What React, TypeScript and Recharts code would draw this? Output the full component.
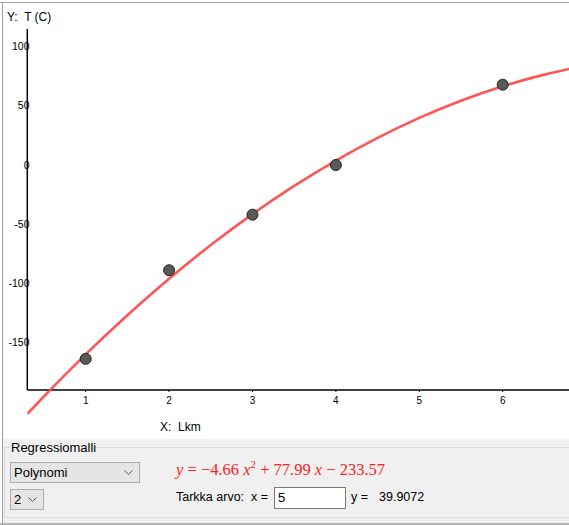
import React from 'react';
import { ComposedChart, Line, Scatter, XAxis, YAxis, ReferenceLine } from 'recharts';

// measured points (Lkm, T)
const lkm = [1, 2, 3, 4, 6];
const temp = [-164, -89, -42, 0, 68];

// regression curve y = -4.66x^2 + 77.99x - 233.57
const curveX = [0.3, 0.5, 1, 1.5, 2, 2.5, 3, 3.5, 4, 4.5, 5, 5.5, 6, 6.5, 6.8];
const curveY = [-210.6, -195.7, -160.2, -127.1, -96.2, -67.7, -41.5, -17.7, 3.8, 23.0, 39.9, 54.4, 66.6, 76.5, 81.3];

const xTicks = [1, 2, 3, 4, 5, 6];
const yTicks = [-150, -100, -50, 0, 50, 100];

const X_MIN = 0.3;
const X_MAX = 6.795;
const Y_AXIS_AT = -190.4;
const Y_MIN = -224.2;
const Y_MAX = 115.1;

const points = lkm.map((x, i) => ({ x, y: temp[i] }));
const curve = curveX.map((x, i) => ({ x, y: curveY[i] }));

const font = '"Liberation Sans", Arial, sans-serif';

const YTick = (props: any) => {
    const { y, payload } = props;
    return (
        <text x={29.5} y={y} dy={3.5} textAnchor="end" fontSize={10.5} fill="#000" fontFamily={font}>
            {payload.value}
        </text>
    );
};

const XTick = (props: any) => {
    const { x, payload } = props;
    return (
        <g>
            <line x1={x} x2={x} y1={390} y2={392} stroke="#000" />
            <text x={x} y={404} textAnchor="middle" fontSize={10} fill="#000" fontFamily={font}>
                {payload.value}
            </text>
        </g>
    );
};

const Dot = (props: any) => {
    const { cx, cy } = props;
    return <circle cx={cx} cy={cy} r={5.5} fill="#595959" stroke="#222" strokeWidth={1} />;
};

const Select = ({ label, left, top, width }: { label: string; left: number; top: number; width: number }) => (
    <div
        style={{
            position: 'absolute', left, top, width, height: 21, boxSizing: 'border-box',
            background: '#e5e5e5', border: '1px solid #adadad', fontSize: 13,
            lineHeight: '19px', paddingLeft: 3, color: '#000',
        }}
    >
        {label}
        <svg style={{ position: 'absolute', right: 6, top: 7 }} width={9} height={6}>
            <polyline points="0.5,0.5 4.5,4.5 8.5,0.5" fill="none" stroke="#555" strokeWidth={1} />
        </svg>
    </div>
);

export default function App() {
    return (
        <div style={{ position: 'absolute', left: 0, top: 0, width: 569, height: 525, background: '#fff', fontFamily: font, overflow: 'hidden' }}>
            {/* window borders */}
            <div style={{ position: 'absolute', left: 0, top: 2, width: 569, height: 1, background: '#a0a0a0' }} />
            <div style={{ position: 'absolute', left: 2, top: 2, width: 1, height: 523, background: '#a0a0a0' }} />

            <div style={{ position: 'absolute', left: 0, top: 0 }}>
                <ComposedChart width={569} height={435} margin={{ top: 29, right: 0, bottom: 0, left: 0 }}>
                    <XAxis
                        type="number"
                        dataKey="x"
                        domain={[X_MIN, X_MAX]}
                        ticks={xTicks}
                        height={5}
                        axisLine={false}
                        tickLine={false}
                        tick={<XTick />}
                        allowDataOverflow
                    />
                    <YAxis
                        type="number"
                        dataKey="y"
                        domain={[Y_MIN, Y_MAX]}
                        ticks={yTicks}
                        width={27.3}
                        axisLine={false}
                        tickLine={false}
                        tick={<YTick />}
                        allowDataOverflow
                    />
                    <ReferenceLine y={Y_AXIS_AT} stroke="#000" strokeWidth={1.5} ifOverflow="visible" />
                    <ReferenceLine
                        segment={[{ x: X_MIN, y: Y_AXIS_AT }, { x: X_MIN, y: Y_MAX }]}
                        stroke="#000"
                        strokeWidth={1.5}
                        ifOverflow="visible"
                    />
                    <Scatter data={points} dataKey="y" shape={<Dot />} isAnimationActive={false} />
                    <Line
                        data={curve}
                        dataKey="y"
                        type="monotone"
                        stroke="#ff4646"
                        strokeOpacity={0.92}
                        strokeWidth={2.6}
                        dot={false}
                        activeDot={false}
                        isAnimationActive={false}
                    />
                </ComposedChart>
            </div>

            <div style={{ position: 'absolute', left: 7, top: 10, fontSize: 12, color: '#000' }}>Y:&nbsp; T (C)</div>
            <div style={{ position: 'absolute', left: 160, top: 420, fontSize: 12, color: '#000' }}>X:&nbsp; Lkm</div>

            {/* bottom panel */}
            <div style={{ position: 'absolute', left: 3, top: 439, width: 566, height: 86, background: '#f0f0f0' }} />
            <div style={{ position: 'absolute', left: 4, top: 447, width: 565, height: 71, border: '1px solid #dcdcdc', borderRight: 'none', boxSizing: 'border-box' }} />
            <div style={{ position: 'absolute', left: 0, top: 523, width: 569, height: 2, background: '#b4b4b4' }} />
            <div style={{ position: 'absolute', left: 10, top: 440, padding: '0 1px', background: '#f0f0f0', fontSize: 13, color: '#000' }}>Regressiomalli</div>

            <Select label="Polynomi" left={10} top={462} width={130} />
            <Select label="2" left={10} top={489} width={34} />

            <div style={{ position: 'absolute', left: 176, top: 458, fontSize: 16.5, color: '#ff2020', fontFamily: '"Liberation Serif", "DejaVu Serif", serif', whiteSpace: 'nowrap' }}>
                <i>y</i> = −4.66 <i>x</i><sup style={{ fontSize: 11 }}>2</sup> + 77.99 <i>x</i> − 233.57
            </div>

            <div style={{ position: 'absolute', left: 176, top: 490, fontSize: 12.5, color: '#000', whiteSpace: 'nowrap' }}>Tarkka arvo:&nbsp; x =</div>
            <div style={{ position: 'absolute', left: 274, top: 487, width: 72, height: 22, boxSizing: 'border-box', background: '#fff', border: '1px solid #7a7a7a', fontSize: 13, lineHeight: '19px', paddingLeft: 3, color: '#000' }}>5</div>
            <div style={{ position: 'absolute', left: 351, top: 490, fontSize: 12.5, color: '#000', whiteSpace: 'nowrap' }}>y =</div>
            <div style={{ position: 'absolute', left: 379, top: 490, fontSize: 12.5, color: '#000', whiteSpace: 'nowrap' }}>39.9072</div>
        </div>
    );
}
